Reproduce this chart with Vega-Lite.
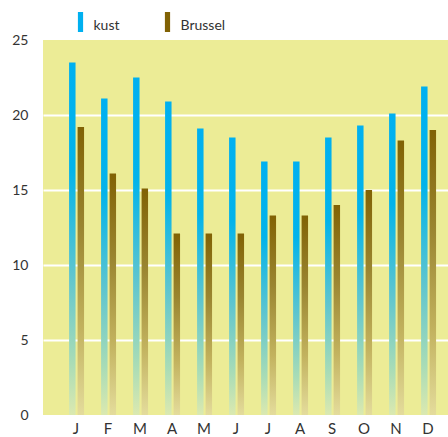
{
  "$schema": "https://vega.github.io/schema/vega-lite/v6.json",
  "width": 405,
  "height": 375,
  "autosize": {"type": "none"},
  "padding": {"left": 43, "top": 40, "right": 0, "bottom": 22},
  "background": "white",
  "config": {"view": {"fill": "#ecec96", "stroke": null}, "font": "Lato"},
  "data": {
    "values": [
      {"maand": "januari", "reeks": "kust", "waarde": 23.5},
      {"maand": "februari", "reeks": "kust", "waarde": 21.1},
      {"maand": "maart", "reeks": "kust", "waarde": 22.5},
      {"maand": "april", "reeks": "kust", "waarde": 20.9},
      {"maand": "mei", "reeks": "kust", "waarde": 19.1},
      {"maand": "juni", "reeks": "kust", "waarde": 18.5},
      {"maand": "juli", "reeks": "kust", "waarde": 16.9},
      {"maand": "augustus", "reeks": "kust", "waarde": 16.9},
      {"maand": "september", "reeks": "kust", "waarde": 18.5},
      {"maand": "oktober", "reeks": "kust", "waarde": 19.3},
      {"maand": "november", "reeks": "kust", "waarde": 20.1},
      {"maand": "december", "reeks": "kust", "waarde": 21.9},
      {"maand": "januari", "reeks": "Brussel", "waarde": 19.2},
      {"maand": "februari", "reeks": "Brussel", "waarde": 16.1},
      {"maand": "maart", "reeks": "Brussel", "waarde": 15.1},
      {"maand": "april", "reeks": "Brussel", "waarde": 12.1},
      {"maand": "mei", "reeks": "Brussel", "waarde": 12.1},
      {"maand": "juni", "reeks": "Brussel", "waarde": 12.1},
      {"maand": "juli", "reeks": "Brussel", "waarde": 13.3},
      {"maand": "augustus", "reeks": "Brussel", "waarde": 13.3},
      {"maand": "september", "reeks": "Brussel", "waarde": 14.0},
      {"maand": "oktober", "reeks": "Brussel", "waarde": 15.0},
      {"maand": "november", "reeks": "Brussel", "waarde": 18.3},
      {"maand": "december", "reeks": "Brussel", "waarde": 19.0}
    ]
  },
  "mark": {"type": "bar", "strokeWidth": 0},
  "encoding": {
    "x": {
      "field": "maand",
      "type": "nominal",
      "sort": null,
      "scale": {"paddingInner": 0, "paddingOuter": 0.328, "align": 0.81},
      "axis": {
        "title": null,
        "labelExpr": "upper(substring(datum.value,0,1))",
        "labelAngle": 0,
        "ticks": false,
        "domain": false,
        "labelFontSize": 15,
        "labelColor": "#333333",
        "labelPadding": 6
      }
    },
    "xOffset": {
      "field": "reeks",
      "type": "nominal",
      "sort": ["kust", "Brussel"],
      "scale": {"paddingInner": 0.24, "paddingOuter": 1.327, "align": 0.533}
    },
    "y": {
      "field": "waarde",
      "type": "quantitative",
      "scale": {"domain": [0, 25]},
      "axis": {
        "title": null,
        "values": [0, 5, 10, 15, 20, 25],
        "grid": true,
        "gridColor": "white",
        "gridWidth": 2,
        "gridOpacity": {"condition": {"test": "datum.value == 0 || datum.value == 25", "value": 0}, "value": 1},
        "ticks": false,
        "domain": false,
        "labelFontSize": 14,
        "labelColor": "#333333",
        "labelPadding": 15
      }
    },
    "fill": {
      "condition": [
        {"test": "datum.reeks == 'kust'", "value": {"gradient": "linear", "x1": 0, "y1": 0, "x2": 0, "y2": 1, "stops": [
          {"offset": 0, "color": "#00b0f0"},
          {"offset": 0.3, "color": "#02b3ea"},
          {"offset": 0.6, "color": "#5ec5cf"},
          {"offset": 0.85, "color": "#a9dcb6"},
          {"offset": 1, "color": "#dbe9b0"}
        ]}},
        {"test": "datum.reeks == 'Brussel'", "value": {"gradient": "linear", "x1": 0, "y1": 0, "x2": 0, "y2": 1, "stops": [
          {"offset": 0, "color": "#816204"},
          {"offset": 0.35, "color": "#9a8530"},
          {"offset": 0.7, "color": "#c2b25e"},
          {"offset": 1, "color": "#e4dc9c"}
        ]}}
      ],
      "field": "reeks",
      "type": "nominal",
      "sort": ["kust", "Brussel"],
      "scale": {"domain": ["kust", "Brussel"], "range": ["#00b0f0", "#816204"]},
      "legend": {
        "title": null,
        "orient": "none",
        "direction": "horizontal",
        "legendX": 27.5,
        "legendY": -28,
        "padding": 0,
        "symbolType": "M-0.26,-1H0.26V1H-0.26Z",
        "symbolSize": 400,
        "symbolStrokeWidth": 0,
        "labelFontSize": 14,
        "labelColor": "#333333",
        "labelOffset": 3,
        "columnPadding": 38,
        "encode": {
          "symbols": {
            "update": {
              "fill": {"signal": "datum.value == 'kust' ? {gradient: 'linear', x1: 0, y1: 0, x2: 0, y2: 1, stops: [{offset: 0, color: '#00b0f0'}, {offset: 1, color: '#8fd6c6'}]} : {gradient: 'linear', x1: 0, y1: 0, x2: 0, y2: 1, stops: [{offset: 0, color: '#7f6000'}, {offset: 1, color: '#c8b860'}]}"},
              "opacity": {"value": 1}
            }
          },
          "labels": {
            "update": {
              "dy": {"value": 4}
            }
          }
        }
      }
    }
  }
}
